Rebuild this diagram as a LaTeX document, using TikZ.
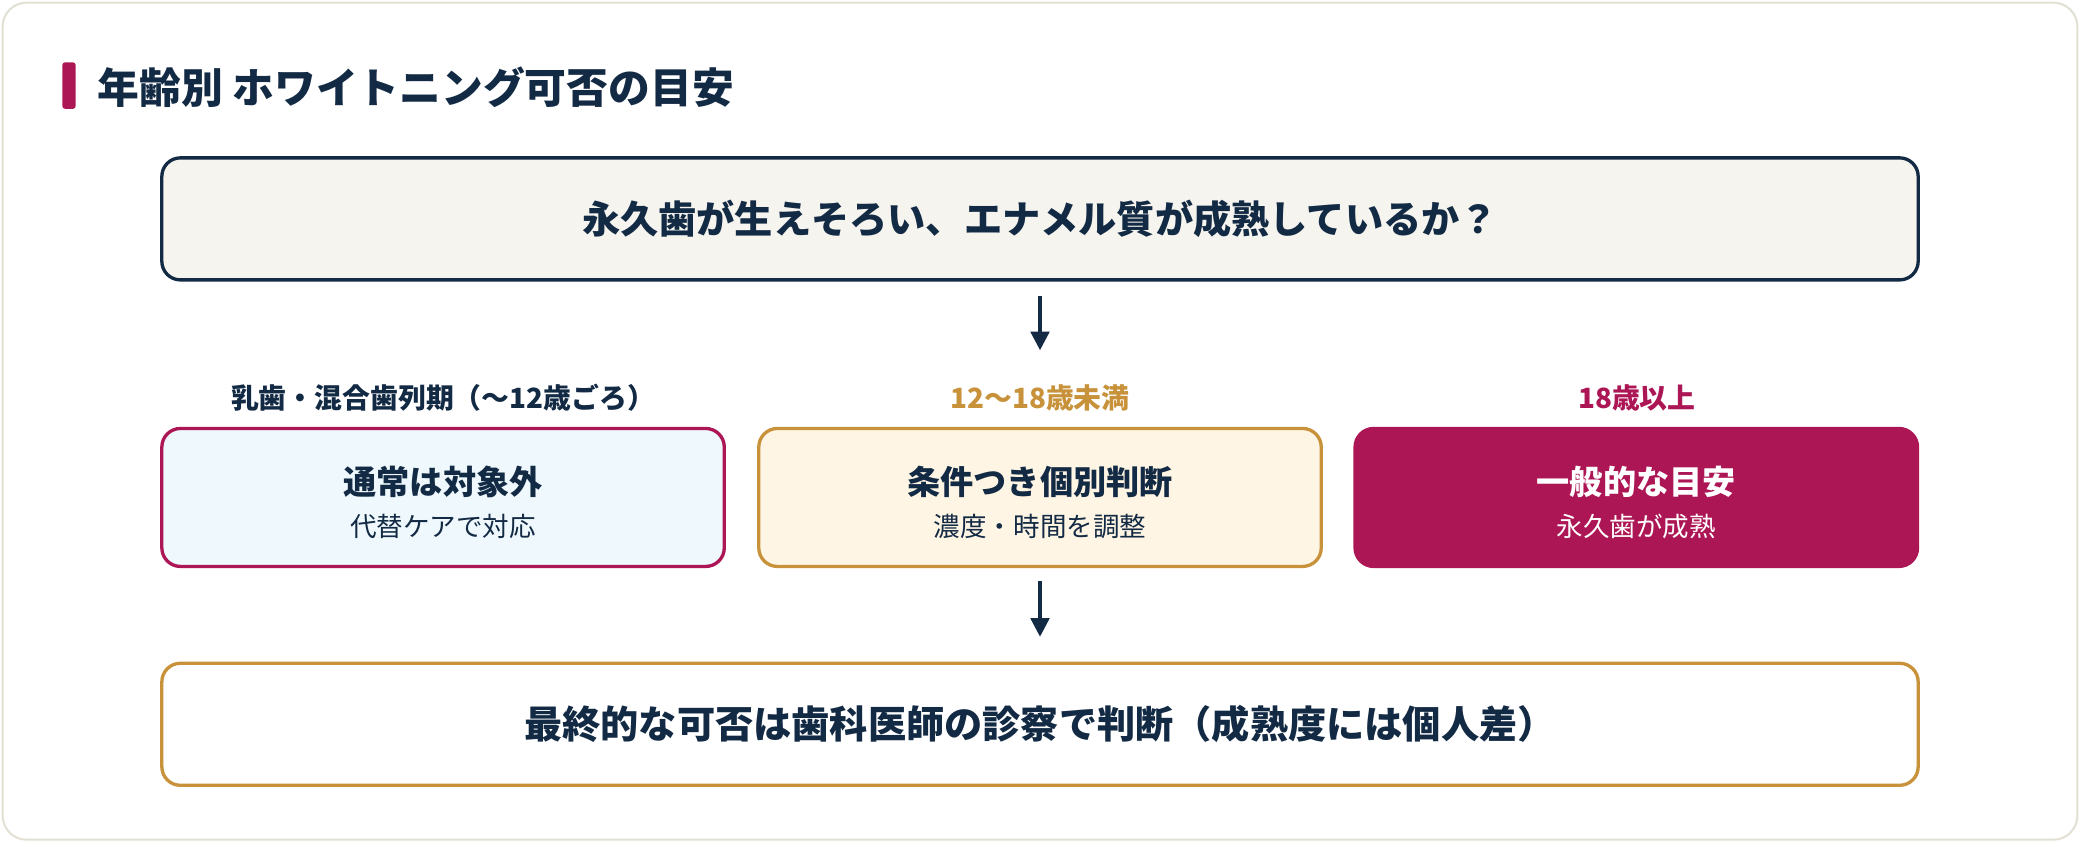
\documentclass[tikz,border=0pt]{standalone}
\usepackage{fontspec}
\setmainfont{Noto Sans CJK JP}
\usetikzlibrary{arrows.meta}

\definecolor{navy}{HTML}{132A44}
\definecolor{berry}{HTML}{AD1655}
\definecolor{ochre}{HTML}{C8923A}
\definecolor{paper}{HTML}{F5F4EF}
\definecolor{skyfill}{HTML}{EEF8FD}
\definecolor{creamfill}{HTML}{FFF5E4}
\definecolor{frame}{HTML}{E2DFD3}

\newcommand{\boxtext}[2]{{\bfseries\fontsize{25}{28}\selectfont\rule{0pt}{29pt}#1}\\[11pt]{\fontsize{20}{22}\selectfont #2}}

\begin{document}
\begin{tikzpicture}[x=1pt,y=-1pt,
    box/.style={draw,line width=2.5pt,rounded corners=14pt,align=center,text=navy},
    widebox/.style={box,minimum width=1324pt,minimum height=92pt},
    agebox/.style={box,minimum width=424pt,minimum height=104pt},
    agelabel/.style={font=\bfseries\fontsize{21}{24}\selectfont},
    arr/.style={navy,line width=2.5pt,-{Triangle[length=14pt,width=14pt]}}]
  \path[use as bounding box] (0,0) rectangle (1568,635);
  \draw[frame,fill=white,line width=1.5pt,rounded corners=18pt] (2,2) rectangle (1566,633);

  % title
  \fill[berry,rounded corners=2pt] (47,47) rectangle (57,82);
  \node[anchor=west,text=navy,font=\bfseries\fontsize{31.5}{36}\selectfont] (title) at (70,66) {年齢別 ホワイトニング可否の目安};

  \node[widebox,draw=navy,fill=paper,font=\bfseries\fontsize{28.8}{32}\selectfont] (q) at (784,165)
    {永久歯が生えそろい、エナメル質が成熟しているか？};

  \coordinate (a1) at (784,264);
  \draw[arr] ([yshift=-11pt]q.south) -- (a1);

  % age groups
  \node[agelabel,text=navy] (l1) at (334,300) {乳歯・混合歯列期（〜12歳ごろ）};
  \node[agelabel,text=ochre] (l2) at (784,300) {12〜18歳未満};
  \node[agelabel,text=berry] (l3) at (1234,300) {18歳以上};

  \node[agebox,draw=berry,fill=skyfill] (b1) at (334,375) {\boxtext{通常は対象外}{代替ケアで対応}};
  \node[agebox,draw=ochre,fill=creamfill] (b2) at (784,375) {\boxtext{条件つき個別判断}{濃度・時間を調整}};
  \node[agebox,draw=berry,fill=berry,text=white] (b3) at (1233.5,375) {\boxtext{一般的な目安}{永久歯が成熟}};

  \coordinate (a2) at (784,480);
  \draw[arr] ([yshift=-10pt]b2.south) -- (a2);

  \node[widebox,draw=ochre,fill=white,font=\bfseries\fontsize{28.8}{32}\selectfont] (res) at (784,546)
    {最終的な可否は歯科医師の診察で判断（成熟度には個人差）};
\end{tikzpicture}
\end{document}
